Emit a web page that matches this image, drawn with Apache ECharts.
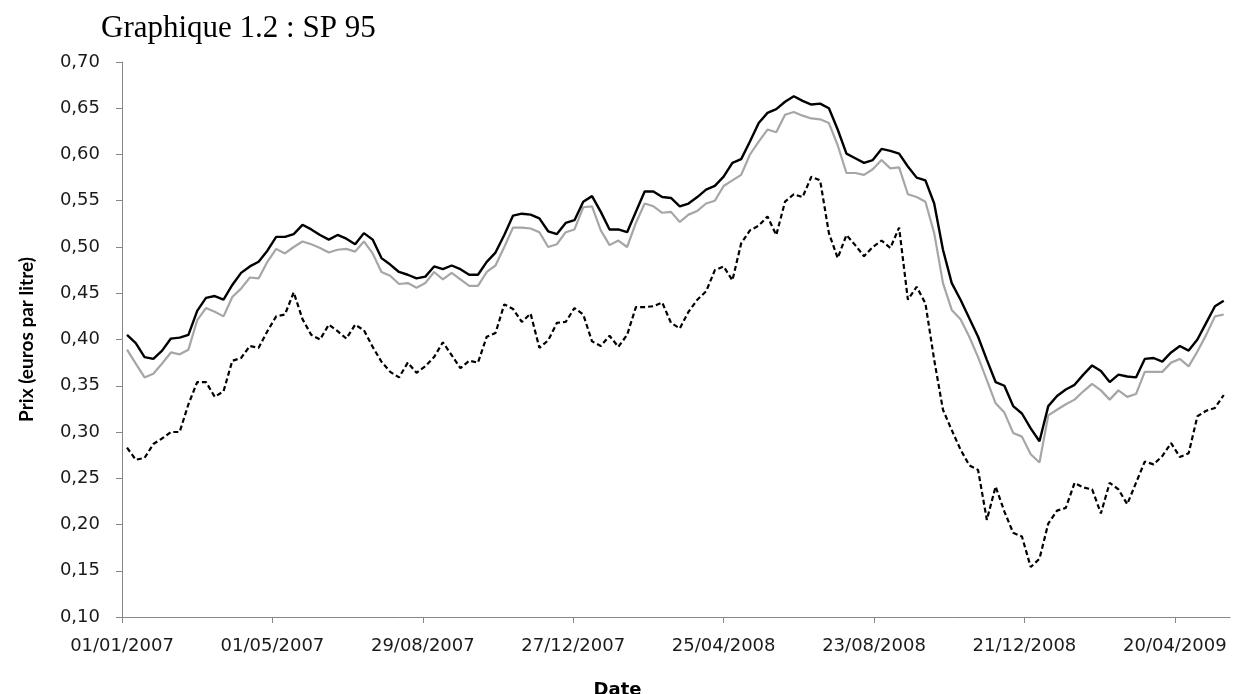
<!DOCTYPE html>
<html>
<head>
<meta charset="utf-8">
<title>Graphique 1.2 : SP 95</title>
<script src="https://cdn.jsdelivr.net/npm/echarts@6/dist/echarts.min.js"></script>
<style>
  html, body { margin: 0; padding: 0; background: #fff; }
  #chart { width: 1235px; height: 694px; }
</style>
</head>
<body>
<div id="chart"></div>
<script>
// prix hebdomadaires (euros par litre), un point par vendredi a partir du 05/01/2007
const firstWeek = Date.UTC(2007, 0, 5);

// trait noir
const blackLine = [
  0.405, 0.396, 0.381, 0.379, 0.388, 0.401, 0.402, 0.405, 0.431, 0.445,
  0.447, 0.443, 0.459, 0.472, 0.479, 0.484, 0.496, 0.511, 0.511, 0.514,
  0.524, 0.519, 0.513, 0.508, 0.513, 0.509, 0.503, 0.515, 0.508, 0.488,
  0.481, 0.473, 0.470, 0.466, 0.468, 0.479, 0.476, 0.480, 0.476, 0.470,
  0.470, 0.484, 0.494, 0.513, 0.534, 0.536, 0.535, 0.531, 0.517, 0.514,
  0.526, 0.529, 0.549, 0.555, 0.538, 0.519, 0.519, 0.516, 0.538, 0.560,
  0.560, 0.554, 0.553, 0.544, 0.547, 0.554, 0.562, 0.566, 0.576, 0.591,
  0.595, 0.614, 0.634, 0.645, 0.649, 0.657, 0.663, 0.658, 0.654, 0.655,
  0.650, 0.627, 0.601, 0.596, 0.591, 0.594, 0.606, 0.604, 0.601, 0.587,
  0.575, 0.572, 0.547, 0.497, 0.461, 0.443, 0.423, 0.403, 0.378, 0.354,
  0.350, 0.328, 0.320, 0.304, 0.290, 0.328, 0.339, 0.346, 0.351, 0.362,
  0.372, 0.366, 0.354, 0.362, 0.360, 0.359, 0.379, 0.380, 0.376, 0.386,
  0.393, 0.388, 0.400, 0.418, 0.436, 0.442
];

// trait gris
const greyLine = [
  0.389, 0.374, 0.359, 0.363, 0.374, 0.386, 0.384, 0.389, 0.421, 0.434,
  0.430, 0.425, 0.446, 0.455, 0.467, 0.466, 0.484, 0.498, 0.493, 0.500,
  0.506, 0.503, 0.499, 0.494, 0.497, 0.498, 0.495, 0.506, 0.493, 0.473,
  0.469, 0.460, 0.461, 0.456, 0.461, 0.473, 0.465, 0.472, 0.465, 0.458,
  0.458, 0.473, 0.480, 0.500, 0.521, 0.521, 0.520, 0.516, 0.500, 0.503,
  0.516, 0.519, 0.543, 0.544, 0.518, 0.502, 0.507, 0.500, 0.526, 0.547,
  0.544, 0.537, 0.538, 0.527, 0.535, 0.539, 0.547, 0.550, 0.566, 0.572,
  0.578, 0.600, 0.614, 0.627, 0.624, 0.643, 0.646, 0.642, 0.639, 0.638,
  0.634, 0.610, 0.580, 0.580, 0.578, 0.584, 0.594, 0.585, 0.586, 0.557,
  0.554, 0.549, 0.515, 0.461, 0.432, 0.422, 0.403, 0.381, 0.356, 0.331,
  0.321, 0.299, 0.295, 0.276, 0.267, 0.318, 0.324, 0.330, 0.335, 0.344,
  0.352, 0.345, 0.335, 0.345, 0.338, 0.341, 0.365, 0.365, 0.365, 0.375,
  0.379, 0.371, 0.387, 0.405, 0.425, 0.427
];

// pointilles
const dashedLine = [
  0.283, 0.270, 0.272, 0.287, 0.293, 0.300, 0.300, 0.330, 0.354, 0.354,
  0.338, 0.344, 0.377, 0.380, 0.393, 0.391, 0.409, 0.425, 0.427, 0.451,
  0.422, 0.405, 0.400, 0.416, 0.409, 0.401, 0.416, 0.410, 0.392, 0.376,
  0.365, 0.359, 0.375, 0.364, 0.371, 0.381, 0.397, 0.383, 0.369, 0.377,
  0.375, 0.403, 0.407, 0.438, 0.433, 0.419, 0.428, 0.391, 0.399, 0.418,
  0.419, 0.434, 0.427, 0.398, 0.393, 0.404, 0.392, 0.405, 0.435, 0.435,
  0.436, 0.440, 0.418, 0.412, 0.430, 0.443, 0.452, 0.475, 0.479, 0.464,
  0.504, 0.518, 0.523, 0.533, 0.513, 0.549, 0.557, 0.554, 0.576, 0.572,
  0.515, 0.488, 0.513, 0.502, 0.490, 0.500, 0.507, 0.499, 0.521, 0.443,
  0.457, 0.439, 0.378, 0.324, 0.302, 0.281, 0.264, 0.259, 0.205, 0.241,
  0.214, 0.191, 0.187, 0.154, 0.163, 0.201, 0.215, 0.218, 0.245, 0.240,
  0.238, 0.212, 0.245, 0.238, 0.222, 0.245, 0.268, 0.265, 0.274, 0.288,
  0.273, 0.277, 0.317, 0.323, 0.326, 0.340
];

// graduations de l'axe des dates
const dateTicks = [
  '01/01/2007', '01/05/2007', '29/08/2007', '27/12/2007',
  '25/04/2008', '23/08/2008', '21/12/2008', '20/04/2009'
];

const DAY = 86400000;

function parseFr(s) {
  const p = s.split('/');
  return Date.UTC(+p[2], +p[1] - 1, +p[0]);
}

function formatFr(t) {
  const d = new Date(t);
  const pad = n => (n < 10 ? '0' : '') + n;
  return pad(d.getUTCDate()) + '/' + pad(d.getUTCMonth() + 1) + '/' + d.getUTCFullYear();
}

function toPoints(values) {
  return values.map((v, i) => [firstWeek + i * 7 * DAY, v]);
}

const tickValues = dateTicks.map(parseFr);
const axisFont = 'DejaVu Sans';

function getOption() {
  return {
    backgroundColor: '#fff',
    animation: false,
    title: [{
      text: 'Graphique 1.2 : SP 95',
      left: 96,
      top: 8,
      textStyle: {
        fontFamily: 'Liberation Serif',
        fontSize: 31,
        fontWeight: 'normal',
        color: '#000'
      }
    }, {
      text: 'Date',
      left: 'center',
      top: 676,
      textStyle: {
        fontFamily: axisFont,
        fontSize: 18,
        fontWeight: 'bold',
        color: '#000'
      }
    }],
    grid: {
      left: 122,
      top: 62,
      width: 1108,
      height: 555,
      outerBoundsMode: 'none'
    },
    xAxis: {
      type: 'value',
      min: parseFr('01/01/2007'),
      max: parseFr('01/01/2007') + 884 * DAY,
      axisLine: { show: true, lineStyle: { color: '#868686', width: 1 } },
      axisTick: {
        show: true,
        length: 6,
        customValues: tickValues,
        lineStyle: { color: '#868686' }
      },
      axisLabel: {
        customValues: tickValues,
        margin: 20,
        fontFamily: axisFont,
        fontSize: 18,
        color: '#1a1a1a',
        formatter: formatFr
      },
      splitLine: { show: false }
    },
    yAxis: {
      type: 'value',
      min: 0.1,
      max: 0.7,
      interval: 0.05,
      name: 'Prix (euros par litre)',
      nameLocation: 'middle',
      nameRotate: 90,
      nameGap: 86,
      nameTextStyle: {
        fontFamily: 'Lato',
        fontSize: 19,
        fontWeight: 'bold',
        color: '#000'
      },
      axisLine: { show: true, lineStyle: { color: '#868686', width: 1 } },
      axisTick: { show: true, length: 6, lineStyle: { color: '#868686' } },
      axisLabel: {
        margin: 22,
        fontFamily: axisFont,
        fontSize: 18,
        color: '#1a1a1a',
        formatter: v => v.toFixed(2).replace('.', ',')
      },
      splitLine: { show: false }
    },
    series: [{
      name: 'gris',
      type: 'line',
      data: toPoints(greyLine),
      showSymbol: false,
      lineStyle: { color: '#a6a6a6', width: 2.2 }
    }, {
      name: 'pointilles',
      type: 'line',
      data: toPoints(dashedLine),
      showSymbol: false,
      lineStyle: { color: '#000', width: 2.2, type: [5, 3] }
    }, {
      name: 'noir',
      type: 'line',
      data: toPoints(blackLine),
      showSymbol: false,
      lineStyle: { color: '#000', width: 2.4 }
    }]
  };
}

const chart = echarts.init(document.getElementById('chart'), null, { renderer: 'canvas' });
chart.setOption(getOption());
</script>
</body>
</html>
